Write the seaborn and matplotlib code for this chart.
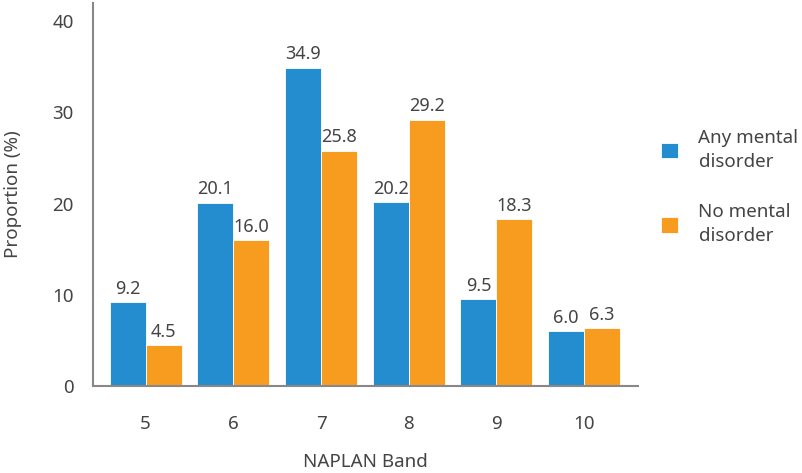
import matplotlib
matplotlib.use("Agg")
import matplotlib.pyplot as plt
import seaborn as sns
import pandas as pd

bands = ["5", "6", "7", "8", "9", "10"]
any_disorder = [9.2, 20.1, 34.9, 20.2, 9.5, 6.0]
no_disorder = [4.5, 16.0, 25.8, 29.2, 18.3, 6.3]
series_names = ["Any mental\ndisorder", "No mental\ndisorder"]
colors = ["#238DCF", "#F89C20"]

df = pd.DataFrame({
    "band": bands * 2,
    "value": any_disorder + no_disorder,
    "group": [series_names[0]] * len(bands) + [series_names[1]] * len(bands),
})

sns.set_style("white")
plt.rcParams["font.family"] = ["Noto Sans", "DejaVu Sans"]
text_color = "#444444"
axis_color = "#888888"

fig = plt.figure(figsize=(8.02, 4.73), dpi=100)
ax = fig.add_axes([0.116, 0.184, 0.679, 0.81])

sns.barplot(data=df, x="band", y="value", hue="group", order=bands,
            hue_order=series_names, palette=colors, saturation=1, width=0.82,
            edgecolor="white", linewidth=0.6, ax=ax, legend=True)

for cont in ax.containers:
    ax.bar_label(cont, labels=[f"{v:.1f}" for v in cont.datavalues],
                 padding=3, fontsize=13, color=text_color)

ax.set_ylim(0, 42)
ax.set_xlim(-0.6, 5.61)
ax.set_yticks([0, 10, 20, 30, 40])
ax.set_xlabel("NAPLAN Band", fontsize=13.5, color=text_color, labelpad=14)
ax.set_ylabel("Proportion (%)", fontsize=13.5, color=text_color, labelpad=22)

for side in ["top", "right"]:
    ax.spines[side].set_visible(False)
for side in ["left", "bottom"]:
    ax.spines[side].set_color(axis_color)
    ax.spines[side].set_linewidth(1.5)
ax.tick_params(axis="both", direction="out", length=9, width=1.5,
               color=axis_color, labelsize=13.5, labelcolor=text_color, pad=5)
ax.tick_params(axis="x", pad=12)

leg = ax.legend(loc="upper left", bbox_to_anchor=(661 / 802, 1 - 129 / 473),
                bbox_transform=fig.transFigure, frameon=False, borderaxespad=0,
                borderpad=0, fontsize=13.5, labelcolor=text_color,
                handlelength=0.9, handleheight=0.9, handletextpad=1.1,
                labelspacing=1.75)
for t in leg.get_texts():
    t.set_linespacing(1.4)

fig.savefig("out.png", dpi=100)
